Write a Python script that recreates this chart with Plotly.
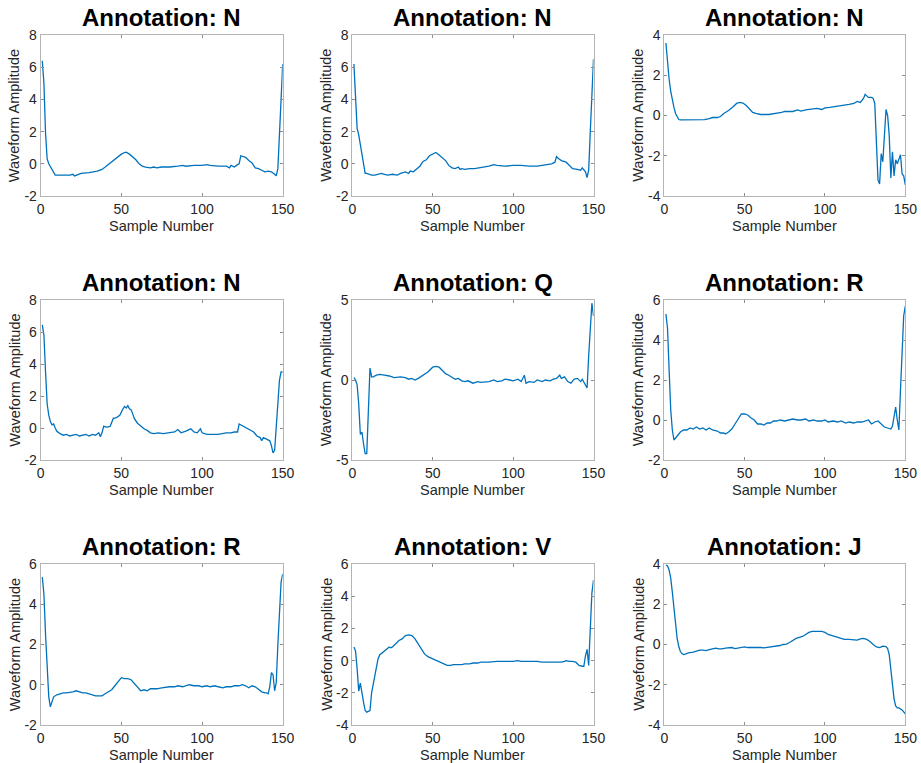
import plotly.graph_objects as go

# ---------------- data ----------------
titles = ["Annotation: N", "Annotation: N", "Annotation: N",
          "Annotation: N", "Annotation: Q", "Annotation: R",
          "Annotation: R", "Annotation: V", "Annotation: J"]

x_ticks = [0, 50, 100, 150]
x_ticklabels = ["0", "50", "100", "150"]

y_ranges = [[-2, 8], [-2, 8], [-4, 4],
            [-2, 8], [-5, 5], [-2, 6],
            [-2, 6], [-4, 6], [-4, 4]]
y_ticks = [[-2, 0, 2, 4, 6, 8], [-2, 0, 2, 4, 6, 8], [-4, -2, 0, 2, 4],
           [-2, 0, 2, 4, 6, 8], [-5, 0, 5], [-2, 0, 2, 4, 6],
           [-2, 0, 2, 4, 6], [-4, -2, 0, 2, 4, 6], [-4, -2, 0, 2, 4]]
y_ticklabels = [["-2", "0", "2", "4", "6", "8"], ["-2", "0", "2", "4", "6", "8"], ["-4", "-2", "0", "2", "4"],
                ["-2", "0", "2", "4", "6", "8"], ["-5", "0", "5"], ["-2", "0", "2", "4", "6"],
                ["-2", "0", "2", "4", "6"], ["-4", "-2", "0", "2", "4", "6"], ["-4", "-2", "0", "2", "4"]]

x_label = "Sample Number"
y_label = "Waveform Amplitude"

s1_x = [1, 2, 3, 4, 5, 6, 7, 8, 9, 10, 14, 18, 20, 21, 25, 30, 35, 38, 40, 43, 45, 48, 50, 52, 53, 55, 57,
        59, 61, 63, 65, 68, 70, 72, 75, 78, 80, 85, 88, 90, 95, 100, 103, 105, 110, 115, 117, 118, 120,
        122, 123, 124, 125, 127, 129, 131, 133, 135, 137, 139, 141, 143, 145, 146, 147, 148, 149, 150]
s1_y = [6.4, 5.0, 1.9, 0.3, 0.0, -0.2, -0.4, -0.55, -0.7, -0.7, -0.7, -0.7, -0.65, -0.75, -0.6, -0.55,
        -0.45, -0.35, -0.2, 0.05, 0.2, 0.45, 0.6, 0.7, 0.72, 0.6, 0.45, 0.25, 0.0, -0.15, -0.2, -0.25,
        -0.2, -0.25, -0.2, -0.2, -0.2, -0.15, -0.1, -0.15, -0.1, -0.1, -0.05, -0.1, -0.15, -0.15, -0.25,
        -0.1, -0.2, -0.05, 0.0, 0.5, 0.45, 0.4, 0.2, 0.05, -0.25, -0.3, -0.4, -0.5, -0.45, -0.5, -0.65,
        -0.75, -0.3, 1.5, 4.0, 6.2]

s2_x = [1, 2, 3, 4, 5, 6, 7, 8, 9, 10, 12, 14, 16, 18, 20, 22, 25, 28, 30, 33, 35, 36, 38, 40, 42, 44,
        46, 48, 50, 52, 54, 56, 58, 60, 62, 64, 66, 67, 68, 70, 73, 76, 80, 85, 88, 90, 95, 100, 105,
        110, 115, 120, 124, 126, 127, 128, 130, 133, 135, 137, 140, 142, 143, 145, 146, 147, 148, 149, 150]
s2_y = [6.2, 4.5, 2.2, 1.8, 1.2, 0.5, 0.0, -0.6, -0.6, -0.65, -0.7, -0.7, -0.65, -0.6, -0.65, -0.7,
        -0.65, -0.7, -0.6, -0.5, -0.6, -0.45, -0.5, -0.3, -0.15, 0.15, 0.25, 0.5, 0.6, 0.7, 0.55, 0.4,
        0.2, -0.1, -0.25, -0.3, -0.2, -0.35, -0.3, -0.35, -0.3, -0.3, -0.25, -0.15, -0.05, -0.1, -0.15,
        -0.1, -0.1, -0.15, -0.15, -0.05, 0.0, 0.1, 0.45, 0.35, 0.2, 0.1, -0.1, -0.3, -0.35, -0.4, -0.25,
        -0.5, -0.85, -0.4, 2.0, 4.5, 6.5]

s3_x = [1, 2, 3, 4, 5, 6, 7, 8, 9, 10, 15, 20, 25, 28, 30, 33, 35, 37, 40, 43, 45, 47, 49, 51, 53, 55,
        57, 60, 65, 70, 73, 75, 80, 83, 85, 88, 92, 95, 98, 100, 103, 105, 108, 112, 115, 118, 120, 122,
        124, 125, 126, 127, 129, 130, 131, 132, 133, 134, 135, 136, 137, 138, 139, 140, 141, 142, 143,
        144, 145, 146, 147, 148, 149, 150]
s3_y = [3.6, 2.5, 1.8, 1.2, 0.7, 0.4, 0.1, -0.1, -0.2, -0.22, -0.22, -0.2, -0.2, -0.15, -0.1, -0.1,
        -0.05, 0.1, 0.25, 0.45, 0.6, 0.65, 0.62, 0.5, 0.3, 0.15, 0.1, 0.05, 0.05, 0.1, 0.15, 0.2, 0.2,
        0.28, 0.22, 0.28, 0.3, 0.35, 0.3, 0.38, 0.4, 0.42, 0.45, 0.5, 0.55, 0.6, 0.7, 0.65, 0.85, 1.05,
        0.95, 0.9, 0.9, 0.85, 0.6, -1.0, -3.2, -3.4, -1.9, -2.3, -1.0, 0.3, 0.0, -1.0, -3.1, -1.8, -3.0,
        -2.2, -2.4, -2.2, -1.95, -2.9, -3.0, -3.45]

s4_x = [1, 2, 3, 4, 5, 6, 7, 8, 9, 10, 12, 14, 16, 18, 20, 22, 24, 26, 28, 30, 32, 34, 36, 37, 38, 39,
        41, 43, 45, 47, 49, 51, 52, 53, 54, 55, 56, 57, 58, 60, 62, 64, 66, 68, 70, 73, 76, 80, 83, 85,
        87, 90, 93, 95, 97, 99, 100, 103, 106, 110, 115, 118, 120, 122, 123, 125, 128, 130, 132, 134,
        136, 137, 138, 140, 142, 143, 144, 145, 146, 147, 148, 149, 150]
s4_y = [6.45, 5.8, 3.5, 1.5, 0.8, 0.4, 0.2, 0.25, 0.0, -0.2, -0.35, -0.45, -0.4, -0.5, -0.45, -0.4,
        -0.5, -0.45, -0.4, -0.5, -0.4, -0.45, -0.3, -0.55, -0.3, 0.1, 0.05, 0.1, 0.6, 0.65, 0.8, 1.2,
        1.35, 1.25, 1.4, 1.2, 1.15, 0.9, 0.6, 0.3, 0.1, -0.05, -0.15, -0.3, -0.35, -0.3, -0.35, -0.3,
        -0.25, -0.1, -0.3, -0.2, -0.05, -0.25, -0.3, -0.05, -0.3, -0.4, -0.4, -0.4, -0.3, -0.3, -0.25,
        -0.25, 0.25, 0.15, -0.05, -0.15, -0.25, -0.5, -0.6, -0.8, -0.6, -0.7, -0.8, -1.1, -1.55, -1.4,
        0.0, 2.0, 3.0, 3.5, 3.5]

s5_x = [1, 2, 3, 4, 5, 6, 7, 8, 9, 10, 11, 12, 13, 15, 17, 20, 23, 26, 30, 33, 35, 37, 39, 41, 44, 47,
        50, 52, 54, 56, 58, 60, 62, 64, 66, 68, 70, 72, 75, 78, 80, 85, 88, 90, 93, 95, 98, 100, 103,
        105, 107, 108, 110, 113, 115, 118, 120, 123, 125, 127, 129, 130, 132, 134, 136, 138, 140, 142,
        143, 145, 146, 147, 148, 149, 150]
s5_y = [0.15, 0.0, -0.3, -1.5, -3.4, -3.25, -4.0, -4.6, -4.6, -2.0, 0.75, 0.2, 0.2, 0.3, 0.35, 0.3,
        0.25, 0.15, 0.2, 0.15, 0.05, 0.1, 0.0, 0.1, 0.3, 0.5, 0.8, 0.85, 0.8, 0.6, 0.4, 0.3, 0.15, 0.05,
        0.1, -0.05, -0.1, -0.05, -0.2, -0.1, -0.15, -0.1, 0.0, -0.1, -0.05, 0.05, 0.0, -0.05, 0.05,
        -0.1, 0.3, -0.2, -0.1, -0.15, 0.0, -0.1, 0.0, -0.05, 0.05, 0.1, 0.3, 0.1, 0.2, -0.1, -0.2, 0.05,
        0.1, -0.1, 0.05, -0.3, -0.5, 1.5, 3.5, 4.8, 4.0]

s6_x = [1, 2, 3, 4, 5, 6, 7, 8, 10, 12, 14, 16, 18, 20, 22, 24, 26, 28, 30, 33, 35, 37, 38, 40, 42, 44,
        46, 48, 50, 52, 54, 56, 58, 60, 62, 64, 66, 68, 70, 72, 75, 78, 80, 83, 85, 88, 90, 93, 95, 98,
        100, 102, 105, 108, 110, 113, 115, 118, 120, 123, 125, 127, 129, 131, 133, 135, 137, 139, 141,
        142, 143, 144, 145, 146, 147, 148, 149, 150]
s6_y = [5.3, 4.6, 2.5, 0.5, -0.5, -1.0, -0.9, -0.8, -0.6, -0.5, -0.5, -0.4, -0.45, -0.35, -0.45, -0.4,
        -0.5, -0.4, -0.5, -0.55, -0.65, -0.65, -0.7, -0.6, -0.45, -0.2, 0.05, 0.3, 0.3, 0.25, 0.1, 0.0,
        -0.2, -0.2, -0.25, -0.15, -0.15, -0.05, -0.05, 0.0, -0.05, 0.0, 0.05, 0.0, 0.0, 0.05, -0.05,
        0.0, -0.05, -0.05, 0.0, -0.1, -0.05, -0.1, -0.05, -0.15, -0.1, -0.15, -0.1, -0.1, -0.05, 0.0,
        -0.2, -0.1, -0.05, -0.2, -0.35, -0.4, -0.45, -0.3, 0.3, 0.65, 0.0, -0.5, 1.5, 3.5, 5.2, 5.7]

s7_x = [1, 2, 3, 4, 5, 6, 7, 8, 10, 12, 14, 16, 18, 20, 22, 24, 26, 28, 30, 32, 34, 36, 38, 40, 42, 44,
        46, 48, 50, 52, 54, 56, 58, 60, 62, 64, 66, 68, 70, 72, 75, 78, 80, 83, 85, 88, 90, 92, 95, 98,
        100, 103, 105, 108, 110, 113, 115, 118, 120, 123, 125, 127, 129, 131, 133, 135, 137, 139, 140,
        141, 142, 143, 144, 145, 146, 147, 148, 149, 150]
s7_y = [5.35, 4.5, 2.5, 0.8, -0.6, -1.1, -0.9, -0.6, -0.5, -0.45, -0.4, -0.4, -0.38, -0.35, -0.3, -0.35,
        -0.4, -0.4, -0.45, -0.5, -0.55, -0.55, -0.55, -0.45, -0.35, -0.25, -0.05, 0.15, 0.35, 0.3, 0.3,
        0.25, 0.05, -0.15, -0.3, -0.25, -0.3, -0.2, -0.2, -0.2, -0.15, -0.1, -0.1, -0.1, -0.05, -0.1,
        -0.05, 0.0, -0.05, -0.05, -0.1, -0.05, -0.1, -0.05, -0.1, -0.15, -0.1, -0.1, -0.05, -0.05, 0.0,
        -0.05, -0.15, -0.05, -0.1, -0.25, -0.35, -0.4, -0.4, -0.45, -0.1, 0.6, 0.5, -0.3, 0.1, 2.0, 3.5,
        5.1, 5.5]

s8_x = [1, 2, 3, 4, 5, 6, 7, 8, 9, 10, 11, 12, 13, 14, 15, 16, 17, 19, 21, 23, 24, 25, 27, 29, 31, 33,
        35, 37, 39, 41, 43, 45, 47, 49, 51, 53, 55, 57, 59, 61, 63, 65, 68, 70, 73, 75, 78, 80, 85, 90,
        95, 100, 103, 105, 110, 115, 118, 120, 125, 128, 130, 132, 133, 135, 137, 139, 141, 143, 144,
        145, 146, 147, 148, 149, 150]
s8_y = [0.85, 0.6, -0.5, -1.9, -1.4, -2.1, -2.6, -3.1, -3.2, -3.15, -3.1, -2.0, -1.5, -1.1, -0.6, 0.1,
        0.35, 0.5, 0.7, 0.85, 0.8, 0.85, 1.05, 1.25, 1.35, 1.55, 1.6, 1.55, 1.35, 1.05, 0.7, 0.4, 0.25,
        0.15, 0.05, 0.0, -0.1, -0.2, -0.3, -0.3, -0.25, -0.25, -0.25, -0.2, -0.2, -0.15, -0.15, -0.1,
        -0.1, -0.05, -0.05, -0.05, 0.0, -0.05, -0.05, -0.05, -0.1, -0.1, -0.1, -0.1, -0.1, -0.05, 0.0,
        -0.05, -0.05, -0.1, -0.3, -0.35, -0.35, 0.3, 0.7, -0.3, 2.0, 4.2, 5.0]

s9_x = [1, 2, 3, 4, 5, 6, 7, 8, 9, 10, 11, 12, 13, 15, 18, 20, 22, 24, 26, 28, 30, 32, 34, 36, 38, 40,
        42, 44, 46, 48, 50, 52, 54, 56, 58, 60, 62, 64, 66, 68, 70, 72, 74, 76, 78, 80, 82, 84, 86, 88,
        90, 92, 95, 98, 100, 102, 104, 106, 108, 110, 112, 115, 118, 120, 122, 124, 126, 128, 130, 132,
        134, 136, 138, 139, 140, 141, 142, 143, 144, 145, 146, 147, 148, 149, 150]
s9_y = [3.95, 3.9, 3.7, 3.3, 2.6, 1.8, 1.0, 0.3, -0.1, -0.35, -0.45, -0.5, -0.48, -0.42, -0.38, -0.33,
        -0.28, -0.28, -0.3, -0.25, -0.22, -0.18, -0.22, -0.22, -0.18, -0.15, -0.15, -0.2, -0.18, -0.15,
        -0.12, -0.15, -0.15, -0.12, -0.12, -0.15, -0.17, -0.15, -0.12, -0.12, -0.1, -0.05, 0.0, 0.02,
        0.1, 0.2, 0.3, 0.35, 0.4, 0.5, 0.6, 0.65, 0.65, 0.65, 0.6, 0.5, 0.45, 0.4, 0.35, 0.28, 0.25,
        0.25, 0.25, 0.22, 0.28, 0.3, 0.25, 0.15, 0.0, -0.12, -0.15, -0.08, -0.1, -0.2, -0.5, -1.2, -2.0,
        -2.7, -3.05, -3.15, -3.15, -3.2, -3.25, -3.35, -3.45]

series_x = [s1_x, s2_x, s3_x, s4_x, s5_x, s6_x, s7_x, s8_x, s9_x]
series_y = [s1_y, s2_y, s3_y, s4_y, s5_y, s6_y, s7_y, s8_y, s9_y]

# ---------------- layout geometry ----------------
W, H = 921, 763
col_px = [(40.7, 282.7), (352.3, 593.5), (664.3, 905.3)]
row_px = [(35, 196), (300, 460), (564, 725)]

LINE = "#0072BD"
TXT = "#262626"
BOX = "#b4b4b4"
FONT = "Liberation Sans, Arial, Helvetica, sans-serif"

fig = go.Figure()
layout = dict(
    width=W, height=H, autosize=False,
    margin=dict(l=0, r=0, t=0, b=0, pad=0, autoexpand=False),
    paper_bgcolor="white", plot_bgcolor="white",
    showlegend=False,
    font=dict(family=FONT, color=TXT, size=14),
)
annotations = []

for i in range(9):
    r, c = divmod(i, 3)
    idx = "" if i == 0 else str(i + 1)
    xd = [col_px[c][0] / W, col_px[c][1] / W]
    yd = [1 - row_px[r][1] / H, 1 - row_px[r][0] / H]
    fig.add_trace(go.Scatter(x=series_x[i], y=series_y[i], mode="lines",
                             line=dict(color=LINE, width=1.3),
                             xaxis="x" + idx, yaxis="y" + idx, hoverinfo="x+y"))
    common = dict(showgrid=False, zeroline=False, showline=True, linecolor=BOX, linewidth=1,
                  mirror="ticks", ticks="inside", ticklen=3, tickcolor="#8c8c8c", tickwidth=1,
                  automargin=False,
                  tickfont=dict(family=FONT, size=14, color=TXT))
    layout["xaxis" + idx] = dict(domain=xd, range=[0, 150], anchor="y" + idx,
                                 tickvals=x_ticks, ticktext=x_ticklabels, **common)
    layout["yaxis" + idx] = dict(domain=yd, range=y_ranges[i], anchor="x" + idx,
                                 tickvals=y_ticks[i], ticktext=y_ticklabels[i], **common)
    cx = (xd[0] + xd[1]) / 2
    # title
    annotations.append(dict(text="<b>" + titles[i] + "</b>", x=cx, y=yd[1], xref="paper", yref="paper",
                            xanchor="center", yanchor="bottom", yshift=2, showarrow=False,
                            font=dict(family=FONT, size=24, color="black")))
    # x label
    annotations.append(dict(text=x_label, x=cx, y=yd[0], xref="paper", yref="paper",
                            xanchor="center", yanchor="middle", yshift=-30, showarrow=False,
                            font=dict(family=FONT, size=14.5, color=TXT)))
    # y label
    annotations.append(dict(text=y_label, x=xd[0], y=(yd[0] + yd[1]) / 2, xref="paper", yref="paper",
                            xanchor="center", yanchor="middle", xshift=-26, textangle=-90,
                            showarrow=False, font=dict(family=FONT, size=14.5, color=TXT)))

layout["annotations"] = annotations
fig.update_layout(**layout)
fig.write_html("out.html", config={"displayModeBar": False},
               post_script="document.body.style.margin='0px';document.body.style.overflow='hidden';")
